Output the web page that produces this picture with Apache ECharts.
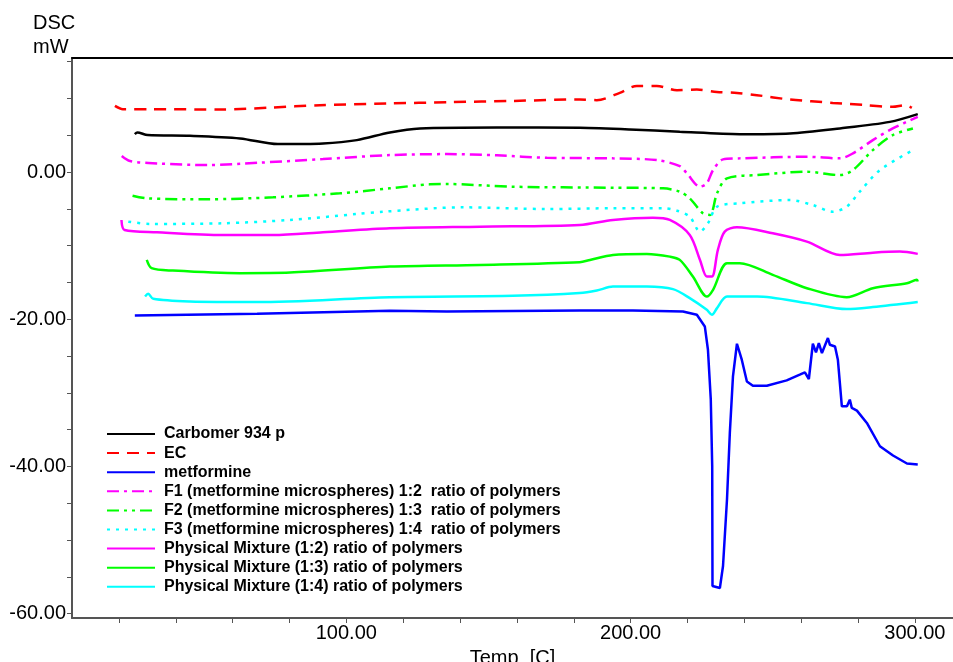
<!DOCTYPE html>
<html>
<head>
<meta charset="utf-8">
<script src="https://cdn.jsdelivr.net/npm/echarts@6/dist/echarts.min.js"></script>
<style>
html, body { margin: 0; padding: 0; background: #fff; }
#chart { width: 953px; height: 662px; }
</style>
</head>
<body>
<div id="chart"></div>
<script>
// DSC thermograms, values: [temp C, mW]
var carbomer = [[25.6,5.15],[26.5,5.39],[30.1,5.02],[45.0,4.92],[62.6,4.57],[75.9,3.8],[91.8,3.89],[103.7,4.34],[115.3,5.39],[125.9,5.93],[153.0,6.06],[182.1,6.01],[199.7,5.79],[217.3,5.47],[238.4,5.15],[256.0,5.25],[273.6,5.93],[291.2,6.82],[301.0,7.87]];
var ec = [[18.6,9.0],[21.4,8.55],[30.9,8.55],[56.6,8.5],[73.1,8.75],[90.7,9.09],[114.6,9.32],[136.4,9.5],[158.6,9.67],[182.1,9.86],[188.1,9.77],[196.2,10.76],[202.2,11.71],[209.2,11.71],[216.3,11.12],[223.3,11.22],[230.3,10.89],[237.4,10.76],[244.4,10.45],[256.0,9.86],[271.1,9.4],[283.1,9.09],[292.2,8.86],[296.5,9.09],[298.9,8.72]];
var metformine = [[25.6,-19.49],[68.6,-19.26],[115.3,-18.86],[135.4,-18.95],[182.1,-18.81],[200.8,-18.81],[218.4,-18.95],[223.3,-19.4],[226.1,-20.98],[227.2,-24.15],[228.2,-30.93],[228.7,-39.98],[228.8,-56.25],[231.4,-56.52],[232.5,-53.54],[233.9,-44.49],[234.9,-35.45],[236.0,-27.77],[237.4,-23.33],[239.1,-25.5],[240.9,-28.45],[243.0,-29.03],[247.9,-29.03],[254.9,-28.31],[259.5,-27.54],[261.3,-27.23],[262.7,-28.12],[264.1,-23.33],[265.2,-24.51],[266.2,-23.24],[267.3,-24.59],[269.4,-22.56],[270.1,-23.47],[271.9,-23.7],[272.9,-25.5],[273.6,-28.66],[274.3,-31.84],[276.1,-31.84],[277.1,-30.93],[277.8,-32.05],[279.6,-32.42],[283.1,-34.09],[287.7,-37.26],[292.3,-38.52],[297.2,-39.61],[301.0,-39.74]];
var f1 = [[21.0,2.17],[23.9,1.49],[33.4,1.18],[51.0,0.95],[68.6,1.26],[91.8,1.76],[115.3,2.31],[135.4,2.44],[153.0,2.27],[170.6,1.94],[193.8,1.86],[209.2,1.63],[217.3,0.81],[219.8,-0.18],[224.4,-1.99],[226.8,-1.53],[229.0,0.27],[232.5,1.72],[238.4,1.86],[262.0,2.08],[273.6,1.86],[278.2,2.54],[285.2,4.34],[292.2,5.93],[301.0,7.5]];
var f2 = [[24.8,-3.21],[29.8,-3.57],[51.0,-3.7],[74.2,-3.43],[97.7,-2.89],[115.3,-2.21],[129.4,-1.67],[135.4,-1.63],[158.6,-1.99],[193.8,-2.13],[211.4,-2.21],[217.3,-2.67],[220.8,-3.57],[225.4,-5.6],[227.9,-5.83],[230.4,-2.89],[233.9,-0.85],[244.5,-0.41],[262.0,0.04],[273.6,-0.41],[278.2,0.27],[285.2,2.98],[292.2,5.02],[299.3,5.93]];
var f3 = [[23.3,-6.74],[30.9,-7.05],[56.6,-6.96],[80.2,-6.51],[103.7,-5.7],[112.9,-5.39],[141.0,-4.79],[170.6,-5.02],[193.8,-4.92],[211.4,-4.92],[216.3,-5.25],[220.8,-6.06],[224.4,-8.1],[227.2,-6.96],[230.4,-4.71],[238.4,-4.25],[256.0,-3.8],[264.1,-4.48],[271.1,-5.39],[276.0,-4.71],[280.6,-2.67],[287.7,0.27],[299.3,2.98]];
var pm12 = [[20.9,-6.51],[22.0,-7.87],[33.4,-8.18],[56.6,-8.55],[74.2,-8.55],[91.8,-8.18],[115.3,-7.64],[147.0,-7.42],[182.1,-7.19],[193.8,-6.51],[207.8,-6.2],[213.8,-6.51],[220.8,-8.55],[224.4,-11.94],[226.8,-14.2],[228.6,-14.2],[230.7,-10.58],[233.1,-8.1],[237.4,-7.5],[250.0,-8.32],[262.0,-9.45],[273.6,-11.26],[285.2,-10.95],[294.7,-10.81],[301.0,-11.12]];
var pm13 = [[29.8,-11.94],[31.5,-13.06],[39.0,-13.39],[62.6,-13.74],[80.2,-13.66],[115.3,-12.85],[147.0,-12.62],[182.1,-12.25],[185.7,-11.94],[193.8,-11.26],[205.7,-11.12],[213.8,-11.49],[217.3,-11.94],[221.9,-14.2],[226.8,-16.92],[229.0,-16.0],[233.9,-12.38],[238.4,-12.38],[250.0,-13.97],[262.0,-15.78],[276.0,-17.0],[285.2,-15.78],[297.2,-15.1],[300.7,-14.65],[301.0,-14.88]];
var pm14 = [[29.2,-16.91],[30.3,-16.55],[32.1,-17.23],[45.0,-17.59],[68.6,-17.67],[115.3,-17.0],[158.6,-16.82],[182.1,-16.45],[188.1,-16.1],[193.8,-15.56],[205.7,-15.56],[214.9,-15.91],[220.8,-17.13],[226.8,-18.72],[228.6,-19.4],[230.4,-18.49],[233.9,-16.92],[244.5,-16.92],[262.0,-17.81],[276.0,-18.62],[285.2,-18.35],[301.0,-17.67]];

var xTicks = [20, 40, 60, 80, 100, 120, 140, 160, 180, 200, 220, 240, 260, 280, 300];
var xLabels = [100, 200, 300];
var yTicks = [-60, -55, -50, -45, -40, -35, -30, -25, -20, -15, -10, -5, 0, 5, 10, 15];
var yLabels = [-60, -40, -20, 0];

var font = '"Liberation Sans", Arial, sans-serif';
var chart = echarts.init(document.getElementById('chart'));

function line(name, data, color, dash, width, smooth) {
    return {
        name: name,
        type: 'line',
        data: data,
        symbol: 'none',
        smooth: smooth,
        lineStyle: { color: color, width: width, type: dash },
        itemStyle: { color: color }
    };
}

var option = {
    animation: false,
    grid: { left: 72, top: 58, right: 0, bottom: 44, containLabel: false, outerBoundsMode: 'none' },
    legend: {
        orient: 'vertical',
        left: 101,
        top: 421,
        itemWidth: 48,
        itemHeight: 10,
        itemGap: 3.1,
        itemStyle: { opacity: 0 },
        textStyle: { fontFamily: font, fontSize: 16, fontWeight: 'bold', color: '#000', lineHeight: 15, padding: [0, 0, 0, 4] },
        data: ['Carbomer 934 p', 'EC', 'metformine',
            'F1 (metformine microspheres) 1:2  ratio of polymers',
            'F2 (metformine microspheres) 1:3  ratio of polymers',
            'F3 (metformine microspheres) 1:4  ratio of polymers',
            'Physical Mixture (1:2) ratio of polymers',
            'Physical Mixture (1:3) ratio of polymers',
            'Physical Mixture (1:4) ratio of polymers']
    },
    xAxis: [{
        type: 'value',
        min: 3.5,
        max: 313.4,
        name: 'Temp  [C]',
        nameLocation: 'middle',
        nameGap: 30,
        nameTextStyle: { fontFamily: font, fontSize: 20, color: '#000' },
        axisLine: { onZero: false, lineStyle: { color: '#555', width: 2 } },
        axisTick: { customValues: xTicks, length: 5, lineStyle: { color: '#555' } },
        axisLabel: {
            customValues: xLabels, margin: 5,
            fontFamily: font, fontSize: 20, color: '#000',
            formatter: function (v) { return v.toFixed(2); }
        },
        splitLine: { show: false }
    }, {
        type: 'value',
        position: 'top',
        min: 3.5,
        max: 313.4,
        axisLine: { show: true, onZero: false, lineStyle: { color: '#000', width: 2 } },
        axisTick: { show: false },
        axisLabel: { show: false },
        splitLine: { show: false }
    }],
    yAxis: {
        type: 'value',
        min: -60.6,
        max: 15.5,
        axisLine: { show: true, onZero: false, lineStyle: { color: '#555', width: 2 } },
        axisTick: { customValues: yTicks, length: 5, lineStyle: { color: '#555' } },
        axisLabel: {
            customValues: yLabels, margin: 6,
            fontFamily: font, fontSize: 20, color: '#000',
            formatter: function (v) { return v.toFixed(2); }
        },
        splitLine: { show: false }
    },
    graphic: [
        { type: 'text', left: 33, top: 13, style: { text: 'DSC', font: '20px ' + font, fill: '#000' } },
        { type: 'text', left: 33, top: 37, style: { text: 'mW', font: '20px ' + font, fill: '#000' } }
    ],
    series: [
        line('Carbomer 934 p', carbomer, '#000000', 'solid', 2.5, 0.3),
        line('EC', ec, '#ff0000', [12, 8], 2.5, 0.3),
        line('metformine', metformine, '#0000ff', 'solid', 2.5, false),
        line('F1 (metformine microspheres) 1:2  ratio of polymers', f1, '#ff00ff', [12, 5, 3, 5], 2.5, 0.3),
        line('F2 (metformine microspheres) 1:3  ratio of polymers', f2, '#00ff00', [12, 5, 3, 5, 3, 5], 2.5, 0.3),
        line('F3 (metformine microspheres) 1:4  ratio of polymers', f3, '#00ffff', [3, 6], 2.5, 0.3),
        line('Physical Mixture (1:2) ratio of polymers', pm12, '#ff00ff', 'solid', 2.5, 0.3),
        line('Physical Mixture (1:3) ratio of polymers', pm13, '#00ff00', 'solid', 2.5, 0.3),
        line('Physical Mixture (1:4) ratio of polymers', pm14, '#00ffff', 'solid', 2.5, 0.3)
    ]
};

chart.setOption(option);
</script>
</body>
</html>
